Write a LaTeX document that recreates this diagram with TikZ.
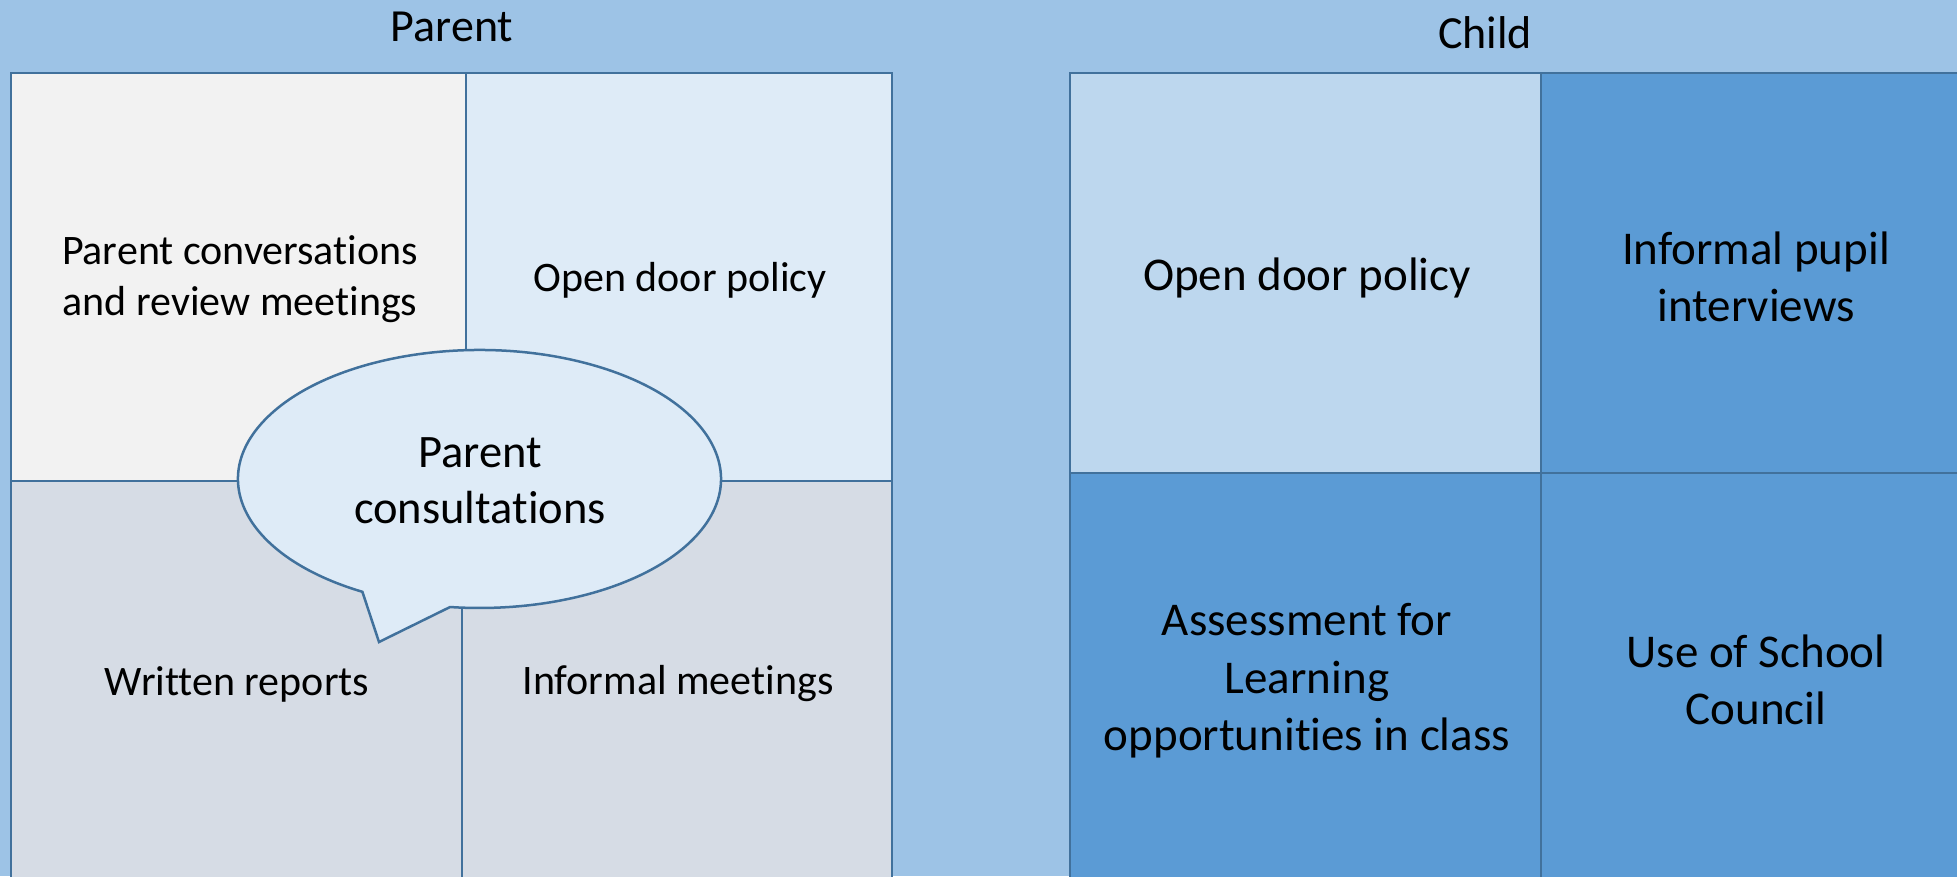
\documentclass[tikz,border=0pt]{standalone}
\usepackage{fontspec}
\setmainfont{Carlito}[Ligatures={NoCommon}]
\definecolor{bgblue}{HTML}{9DC3E6}
\definecolor{cgrey}{HTML}{F2F2F2}
\definecolor{cpale}{HTML}{DEEBF7}
\definecolor{cslate}{HTML}{D6DCE5}
\definecolor{clight}{HTML}{BDD7EE}
\definecolor{cmid}{HTML}{5B9BD5}
\definecolor{cline}{HTML}{41719C}
\tikzset{
  cellbox/.style={draw=cline, line width=2.2pt},
  lefttext/.style={align=center, inner sep=0pt, font=\fontsize{42}{51}\selectfont},
  righttext/.style={align=center, inner sep=0pt, font=\fontsize{47}{57.5}\selectfont},
  titletext/.style={inner sep=0pt, font=\fontsize{46}{56}\selectfont},
  callout/.style={draw=cline, fill=cpale, line width=2.5pt, line join=miter},
}
\begin{document}
\begin{tikzpicture}[x=1pt,y=-1pt]
\useasboundingbox (0,0) rectangle (1957,876);
\clip (0,0) rectangle (1957,876);
\fill[bgblue] (0,0) rectangle (1957,876);
% left panel
\fill[cgrey] (11,73) rectangle (466,481);
\fill[cpale] (466,73) rectangle (892,481);
\fill[cslate] (11,481) rectangle (462,890);
\fill[cslate] (462,481) rectangle (892,890);
\draw[cellbox] (11,73) rectangle (466,481);
\draw[cellbox] (466,73) rectangle (892,481);
\draw[cellbox] (11,481) rectangle (462,890);
\draw[cellbox] (462,481) rectangle (892,890);
% right panel
\fill[clight] (1070,73) rectangle (1541,473);
\fill[cmid] (1541,73) rectangle (1965,473);
\fill[cmid] (1070,473) rectangle (1541,890);
\fill[cmid] (1541,473) rectangle (1965,890);
\draw[cellbox] (1070,73) rectangle (1541,473);
\draw[cellbox] (1541,73) rectangle (1965,473);
\draw[cellbox] (1070,473) rectangle (1541,890);
\draw[cellbox] (1541,473) rectangle (1965,890);
% titles
\node[titletext] (tparent) at (452,27) {Parent};
\node[titletext] (tchild) at (1485,33) {Child};
% left texts
\node[lefttext] (ltl) at (240,279) {Parent conversations\\and review meetings};
\node[lefttext] (ltr) at (680,280) {Open door policy};
\node[lefttext] (lbl) at (237,684) {Written reports};
\node[lefttext] (lbr) at (678,684) {Informal meetings};
% callout
\draw[callout] (362.4,591.8) arc[start angle=119, end angle=457, x radius=241.5, y radius=129] -- (379,642) -- cycle;
\node[righttext, font=\fontsize{46.5}{56}\selectfont] (pc) at (480,481) {Parent\\consultations};
% right texts
\node[righttext] (rtl) at (1307,278) {Open door policy};
\node[righttext] (rtr) at (1756,277) {Informal pupil\\interviews};
\node[righttext] (rbl) at (1307,681) {Assessment for\\Learning\\opportunities in class};
\node[righttext] (rbr) at (1756,680) {Use of School\\Council};
\end{tikzpicture}
\end{document}
